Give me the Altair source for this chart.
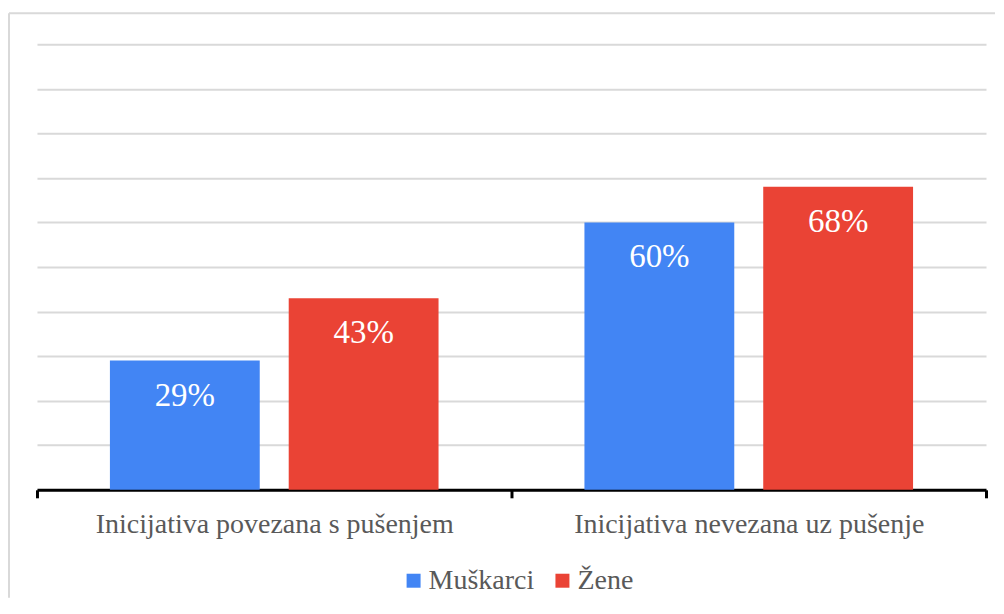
import altair as alt
import pandas as pd

categories = ["Inicijativa povezana s pušenjem", "Inicijativa nevezana uz pušenje"]
series = ["Muškarci", "Žene"]
men_values = [29, 60]
women_values = [43, 68]
grid_values = [0, 10, 20, 30, 40, 50, 60, 70, 80, 90, 100]
colors = ["#4285F4", "#EA4335"]

rows = []
for i, c in enumerate(categories):
    rows.append({"category": c, "series": series[0], "value": men_values[i]})
    rows.append({"category": c, "series": series[1], "value": women_values[i]})
df = pd.DataFrame(rows)
df["label"] = df["value"].astype(str) + "%"

FONT = "Liberation Serif"
GRAY = "#595959"

x_enc = alt.X(
    "category:N",
    sort=categories,
    scale=alt.Scale(paddingInner=0, paddingOuter=0),
    axis=alt.Axis(
        title=None,
        labelAngle=0,
        labelFont=FONT,
        labelFontSize=28,
        labelColor=GRAY,
        labelPadding=13,
        labelLimit=0,
        domainColor="black",
        domainWidth=3,
        tickColor="black",
        tickWidth=3,
        tickSize=8,
        tickBand="extent",
        grid=False,
    ),
)
xo_enc = alt.XOffset(
    "series:N", sort=series, scale=alt.Scale(paddingInner=0.162, paddingOuter=0.408)
)
y_enc = alt.Y(
    "value:Q",
    scale=alt.Scale(domain=[0, 100]),
    axis=alt.Axis(
        title=None,
        labels=False,
        ticks=False,
        domain=False,
        values=grid_values,
        gridColor="#d9d9d9",
        gridWidth=2,
    ),
)

bars = alt.Chart(df).mark_bar().encode(
    x=x_enc,
    xOffset=xo_enc,
    y=y_enc,
    color=alt.Color(
        "series:N",
        sort=series,
        scale=alt.Scale(domain=series, range=colors),
        legend=alt.Legend(
            title=None,
            orient="none",
            legendX=363,
            legendY=523,
            direction="horizontal",
            symbolType="square",
            symbolSize=196,
            symbolStrokeWidth=0,
            labelFont=FONT,
            labelFontSize=28,
            labelColor=GRAY,
            labelOffset=1,
            columnPadding=14,
            padding=0,
        ),
    ),
)

texts = alt.Chart(df).mark_text(
    font=FONT, fontSize=33, color="white", baseline="alphabetic", dy=45
).encode(x=x_enc, xOffset=xo_enc, y=y_enc, text="label:N")

dummy = pd.DataFrame({"a": [0]})
left_border = alt.Chart(dummy).mark_rule(color="#d9d9d9", strokeWidth=2).encode(
    x=alt.value(-28), y=alt.value(-31), y2=alt.value(554)
)
top_border = alt.Chart(dummy).mark_rule(color="#d9d9d9", strokeWidth=2).encode(
    x=alt.value(-28), x2=alt.value(959), y=alt.value(-31)
)

chart = (
    alt.layer(left_border, top_border, bars, texts)
    .properties(width=950, height=446, padding={"left": 0, "top": 4, "right": 0, "bottom": 0})
    .configure(background="white")
    .configure_view(strokeWidth=0, stroke="transparent")
)

chart.save("out.html", embed_options={"renderer": "svg", "actions": False})
